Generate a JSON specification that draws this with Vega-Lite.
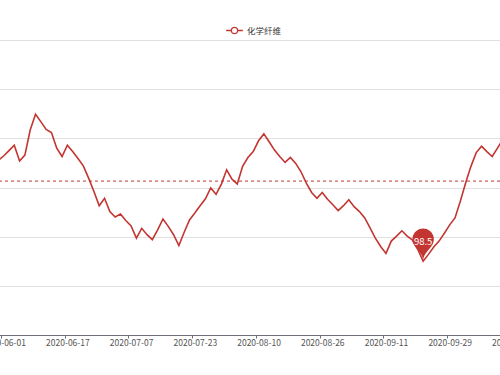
{
  "$schema": "https://vega.github.io/schema/vega-lite/v6.json",
  "width": 500,
  "height": 295,
  "autosize": {"type": "none"},
  "padding": {"left": 0, "top": 40, "right": 0, "bottom": 40},
  "background": "white",
  "config": {"view": {"stroke": null}, "font": "Noto Sans CJK SC"},
  "datasets": {
    "main": [
      {"date": "2020-05-29", "value": 100.55},
      {"date": "2020-06-01", "value": 100.64},
      {"date": "2020-06-02", "value": 100.75},
      {"date": "2020-06-03", "value": 100.86},
      {"date": "2020-06-04", "value": 100.54},
      {"date": "2020-06-05", "value": 100.66},
      {"date": "2020-06-08", "value": 101.17},
      {"date": "2020-06-09", "value": 101.49},
      {"date": "2020-06-10", "value": 101.34},
      {"date": "2020-06-11", "value": 101.18},
      {"date": "2020-06-12", "value": 101.12},
      {"date": "2020-06-15", "value": 100.80},
      {"date": "2020-06-16", "value": 100.63},
      {"date": "2020-06-17", "value": 100.86},
      {"date": "2020-06-18", "value": 100.73},
      {"date": "2020-06-19", "value": 100.59},
      {"date": "2020-06-22", "value": 100.44},
      {"date": "2020-06-23", "value": 100.19},
      {"date": "2020-06-24", "value": 99.92},
      {"date": "2020-06-29", "value": 99.63},
      {"date": "2020-06-30", "value": 99.78},
      {"date": "2020-07-01", "value": 99.51},
      {"date": "2020-07-02", "value": 99.40},
      {"date": "2020-07-03", "value": 99.46},
      {"date": "2020-07-06", "value": 99.33},
      {"date": "2020-07-07", "value": 99.22},
      {"date": "2020-07-08", "value": 98.97},
      {"date": "2020-07-09", "value": 99.17},
      {"date": "2020-07-10", "value": 99.04},
      {"date": "2020-07-13", "value": 98.94},
      {"date": "2020-07-14", "value": 99.14},
      {"date": "2020-07-15", "value": 99.36},
      {"date": "2020-07-16", "value": 99.21},
      {"date": "2020-07-17", "value": 99.04},
      {"date": "2020-07-20", "value": 98.82},
      {"date": "2020-07-21", "value": 99.09},
      {"date": "2020-07-22", "value": 99.34},
      {"date": "2020-07-23", "value": 99.48},
      {"date": "2020-07-24", "value": 99.63},
      {"date": "2020-07-27", "value": 99.77},
      {"date": "2020-07-28", "value": 99.99},
      {"date": "2020-07-29", "value": 99.86},
      {"date": "2020-07-30", "value": 100.07},
      {"date": "2020-07-31", "value": 100.36},
      {"date": "2020-08-03", "value": 100.17},
      {"date": "2020-08-04", "value": 100.07},
      {"date": "2020-08-05", "value": 100.43},
      {"date": "2020-08-06", "value": 100.61},
      {"date": "2020-08-07", "value": 100.73},
      {"date": "2020-08-10", "value": 100.95},
      {"date": "2020-08-11", "value": 101.09},
      {"date": "2020-08-12", "value": 100.93},
      {"date": "2020-08-13", "value": 100.76},
      {"date": "2020-08-14", "value": 100.63},
      {"date": "2020-08-17", "value": 100.51},
      {"date": "2020-08-18", "value": 100.61},
      {"date": "2020-08-19", "value": 100.49},
      {"date": "2020-08-20", "value": 100.32},
      {"date": "2020-08-21", "value": 100.09},
      {"date": "2020-08-24", "value": 99.90},
      {"date": "2020-08-25", "value": 99.78},
      {"date": "2020-08-26", "value": 99.90},
      {"date": "2020-08-27", "value": 99.76},
      {"date": "2020-08-28", "value": 99.65},
      {"date": "2020-08-31", "value": 99.53},
      {"date": "2020-09-01", "value": 99.63},
      {"date": "2020-09-02", "value": 99.75},
      {"date": "2020-09-03", "value": 99.61},
      {"date": "2020-09-04", "value": 99.51},
      {"date": "2020-09-07", "value": 99.38},
      {"date": "2020-09-08", "value": 99.18},
      {"date": "2020-09-09", "value": 98.97},
      {"date": "2020-09-10", "value": 98.80},
      {"date": "2020-09-11", "value": 98.66},
      {"date": "2020-09-14", "value": 98.91},
      {"date": "2020-09-15", "value": 99.01},
      {"date": "2020-09-16", "value": 99.12},
      {"date": "2020-09-17", "value": 99.01},
      {"date": "2020-09-18", "value": 98.93},
      {"date": "2020-09-21", "value": 98.74},
      {"date": "2020-09-22", "value": 98.50},
      {"date": "2020-09-23", "value": 98.64},
      {"date": "2020-09-24", "value": 98.79},
      {"date": "2020-09-25", "value": 98.91},
      {"date": "2020-09-28", "value": 99.07},
      {"date": "2020-09-29", "value": 99.24},
      {"date": "2020-09-30", "value": 99.38},
      {"date": "2020-10-09", "value": 99.72},
      {"date": "2020-10-12", "value": 100.09},
      {"date": "2020-10-13", "value": 100.43},
      {"date": "2020-10-14", "value": 100.71},
      {"date": "2020-10-15", "value": 100.84},
      {"date": "2020-10-16", "value": 100.73},
      {"date": "2020-10-19", "value": 100.63},
      {"date": "2020-10-20", "value": 100.80},
      {"date": "2020-10-21", "value": 100.98},
      {"date": "2020-10-22", "value": 101.10},
      {"date": "2020-10-23", "value": 101.20}
    ],
    "avg": [{"avg": 100.13}]
  },
  "layer": [
    {
      "data": {"name": "main"},
      "mark": {"type": "line", "strokeWidth": 1.6, "clip": true},
      "encoding": {
        "x": {
          "field": "date",
          "type": "ordinal",
          "scale": {"type": "point", "padding": 0, "range": [-1.66, 513.41]},
          "axis": {
            "values": ["2020-06-01", "2020-06-17", "2020-07-07", "2020-07-23", "2020-08-10", "2020-08-26", "2020-09-11", "2020-09-29", "2020-10-23"],
            "title": null,
            "labelAngle": 0,
            "tickOffset": -2.65,
            "labelOffset": 2.65,
            "domainColor": "#6e7079",
            "tickColor": "#6e7079",
            "tickSize": 3,
            "labelColor": "#555555",
            "labelFontSize": 8.5,
            "labelPadding": 0,
            "grid": false
          }
        },
        "y": {
          "field": "value",
          "type": "quantitative",
          "scale": {"domain": [97, 103], "nice": false, "zero": false},
          "axis": {
            "values": [97, 98, 99, 100, 101, 102, 103],
            "labels": false,
            "ticks": false,
            "domain": false,
            "title": null,
            "gridColor": "#e0e0e0"
          }
        },
        "color": {
          "datum": "化学纤维",
          "scale": {"range": ["#c23531"]},
          "legend": {
            "orient": "none",
            "legendX": 225,
            "legendY": -19,
            "title": null,
            "symbolType": "M-1,0L-0.38,0M0.38,0L1,0M-0.38,0A0.38,0.38 0 1,1 0.38,0A0.38,0.38 0 1,1 -0.38,0Z",
            "symbolSize": 279,
            "symbolStrokeColor": "#c23531",
            "symbolFillColor": "#ffffff",
            "symbolStrokeWidth": 1.3,
            "labelFontSize": 8.5,
            "labelColor": "#333333",
            "labelOffset": 3,
            "padding": 0
          }
        }
      }
    },
    {
      "data": {"name": "avg"},
      "mark": {"type": "rule", "strokeDash": [3, 3], "color": "#c23531", "strokeWidth": 1},
      "encoding": {"y": {"field": "avg", "type": "quantitative"}}
    },
    {
      "data": {"name": "main"},
      "transform": [
        {"joinaggregate": [{"op": "min", "field": "value", "as": "minv"}]},
        {"filter": "datum.value === datum.minv"}
      ],
      "mark": {
        "type": "point",
        "shape": "M-0.87,-1.56A1,1 0 1,1 0.87,-1.56C0.576,-1.038 0,-0.7 0,0C0,-0.7 -0.576,-1.038 -0.87,-1.56Z",
        "filled": true,
        "size": 460,
        "color": "#c23531",
        "opacity": 1
      },
      "encoding": {
        "x": {"field": "date", "type": "ordinal"},
        "y": {"field": "value", "type": "quantitative"}
      }
    },
    {
      "data": {"name": "main"},
      "transform": [
        {"joinaggregate": [{"op": "min", "field": "value", "as": "minv"}]},
        {"filter": "datum.value === datum.minv"}
      ],
      "mark": {"type": "text", "color": "#ffffff", "fontSize": 9.5, "dy": -19.5, "align": "center", "baseline": "middle"},
      "encoding": {
        "x": {"field": "date", "type": "ordinal"},
        "y": {"field": "value", "type": "quantitative"},
        "text": {"field": "value", "type": "quantitative", "format": ".1f"}
      }
    }
  ]
}
